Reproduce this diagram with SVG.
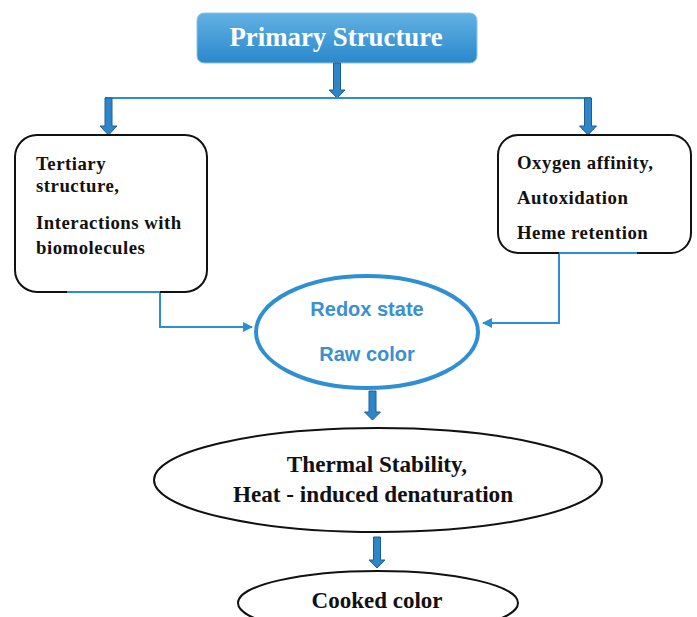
<svg xmlns="http://www.w3.org/2000/svg" width="697" height="617" viewBox="0 0 697 617">
<style>
.serif{font-family:"Liberation Serif","Times New Roman",serif;font-weight:bold;fill:#111}
.bt{letter-spacing:0.5px}
.box{fill:#fff;stroke:#111;stroke-width:2}
.conn{fill:none;stroke:#2b8fd6;stroke-width:2}
.blk{fill:#2e86c8;stroke:#1d5f92;stroke-width:1}
.blue{font-family:"Liberation Sans",Arial,sans-serif;font-weight:bold;fill:#3a90d0}
</style>
<defs>
<linearGradient id="g" x1="0" y1="0" x2="0" y2="1">
<stop offset="0" stop-color="#62b1e2"/>
<stop offset="1" stop-color="#2a88cc"/>
</linearGradient>
<marker id="ah" viewBox="0 0 10 10" refX="9" refY="5" markerWidth="5" markerHeight="5" orient="auto" markerUnits="strokeWidth">
<path d="M0,0 L10,5 L0,10 z" fill="#2b8fd6"/>
</marker>
</defs>
<g id="primary">
<rect x="197" y="13" width="280" height="50" rx="7" fill="url(#g)" stroke="#8cc4ea" stroke-width="1"/>
<text x="336" y="46" text-anchor="middle" class="serif" style="fill:#fff" font-size="26.8">Primary Structure</text>
</g>
<g id="connectors">
<path class="blk" d="M333.5,63 h7 v27 h4.5 l-8,8 l-8,-8 h4.5 z"/>
<line class="conn" x1="105" y1="98" x2="591" y2="98"/>
<path class="blk" d="M105,98 h7 v28 h5 l-8.5,9 l-8.5,-9 h5 z"/>
<path class="blk" d="M584.5,98 h7 v28 h5 l-8.5,9 l-8.5,-9 h5 z"/>
<path class="conn" d="M160,292 V327 H252" marker-end="url(#ah)"/>
<path class="conn" d="M559,253 V323 H483" marker-end="url(#ah)"/>
<path class="blk" d="M369,391 h7 v21 h4.5 l-8,8 l-8,-8 h4.5 z"/>
<path class="blk" d="M373.5,537 h7 v23 h4.5 l-8,8 l-8,-8 h4.5 z"/>
</g>
<g id="tertiary">
<rect class="box" x="15" y="135" width="192" height="157" rx="22"/>
<line x1="67" y1="292" x2="160" y2="292" stroke="#2b8fd6" stroke-width="2"/>
<text class="serif bt" font-size="18.8" x="36" y="170">Tertiary</text>
<text class="serif bt" font-size="18.8" x="36" y="192">structure,</text>
<text class="serif bt" font-size="18.8" x="36" y="229">Interactions with</text>
<text class="serif bt" font-size="18.8" x="36" y="254">biomolecules</text>
</g>
<g id="oxygen">
<rect class="box" x="498" y="135" width="193" height="118" rx="20"/>
<line x1="559" y1="253" x2="637" y2="253" stroke="#2b8fd6" stroke-width="2"/>
<text class="serif bt" font-size="18.8" x="517" y="169">Oxygen affinity,</text>
<text class="serif bt" font-size="18.8" x="517" y="204">Autoxidation</text>
<text class="serif bt" font-size="18.8" x="517" y="239">Heme retention</text>
</g>
<g id="redox">
<ellipse cx="367" cy="332" rx="111" ry="56" fill="#fff" stroke="#2f8fd3" stroke-width="4"/>
<text class="blue" font-size="20" x="367" y="316" text-anchor="middle">Redox state</text>
<text class="blue" font-size="20" x="367" y="361" text-anchor="middle">Raw color</text>
</g>
<g id="thermal">
<ellipse cx="378" cy="480" rx="224" ry="52" fill="#fff" stroke="#111" stroke-width="2"/>
<text class="serif" font-size="23.2" x="377" y="472" text-anchor="middle">Thermal Stability,</text>
<text class="serif" font-size="23.2" x="373" y="502" text-anchor="middle">Heat - induced denaturation</text>
</g>
<g id="cooked">
<ellipse cx="378" cy="603" rx="140" ry="32" fill="#fff" stroke="#111" stroke-width="2"/>
<text class="serif" font-size="23" x="377" y="608" text-anchor="middle">Cooked color</text>
</g>
</svg>
